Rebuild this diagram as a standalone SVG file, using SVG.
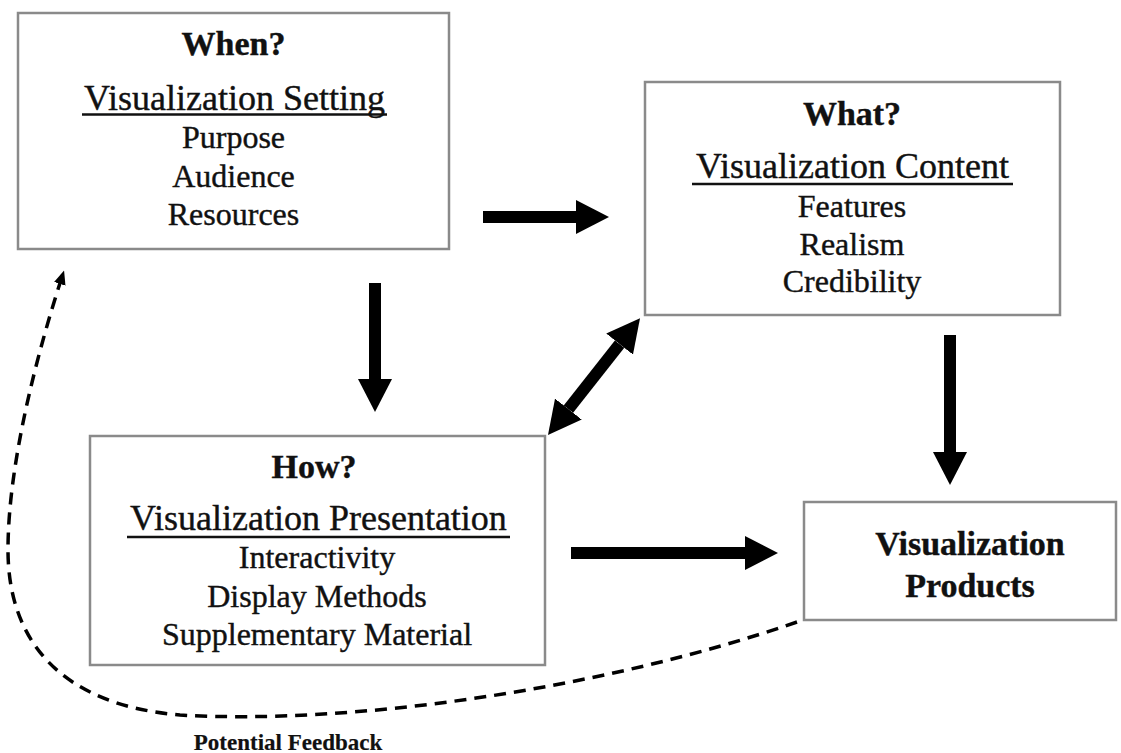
<svg xmlns="http://www.w3.org/2000/svg" width="1121" height="753" viewBox="0 0 1121 753">
<style>
.box{fill:#fff;stroke:#8a8a8a;stroke-width:2.5}
text{font-family:"Liberation Serif","Times New Roman",serif;fill:#111;text-anchor:middle;stroke:#111;stroke-width:0.4}
.title{font-size:34px;font-weight:bold}
.head{font-size:36px}
.item{font-size:32px}
.ul{stroke:#111;stroke-width:2.5}
.arrow{stroke:#000;stroke-width:12;fill:none;marker-end:url(#head)}
.fb{stroke:#000;stroke-width:3.5;fill:none;stroke-dasharray:12 8;marker-end:url(#small)}
</style>
<defs>
<marker id="head" markerUnits="userSpaceOnUse" viewBox="0 0 33 34" refX="0" refY="17" markerWidth="33" markerHeight="34" orient="auto-start-reverse">
<path d="M0,0 L33,17 L0,34 z" fill="#000"/>
</marker>
<marker id="small" markerUnits="userSpaceOnUse" viewBox="0 0 14 12" refX="4" refY="6" markerWidth="14" markerHeight="12" orient="auto">
<path d="M0,0 L14,6 L0,12 z" fill="#000"/>
</marker>
</defs>
<rect width="1121" height="753" fill="#fff"/>
<g id="connectors">
<line class="arrow" x1="483" y1="217" x2="576" y2="217"/>
<line class="arrow" x1="375" y1="283" x2="375" y2="379"/>
<line class="arrow" x1="568.4" y1="409.1" x2="619.6" y2="344.1" style="marker-start:url(#head)"/>
<line class="arrow" x1="950" y1="335" x2="950" y2="452"/>
<line class="arrow" x1="571" y1="553" x2="745" y2="553"/>
<path class="fb" d="M797,622 C600,690 350,725 180,715 C60,705 8,640 8,550 C8,460 40,345 61,280"/>
<text x="288" y="750" style="font-size:23px;font-weight:bold;stroke-width:0.2">Potential Feedback</text>
</g>
<g id="when">
<rect class="box" x="18" y="13" width="431" height="236"/>
<text class="title" x="233.5" y="55">When?</text>
<text class="head" x="234.5" y="110">Visualization Setting</text>
<line class="ul" x1="82" y1="114.5" x2="387" y2="114.5"/>
<text class="item" x="233.5" y="148">Purpose</text>
<text class="item" x="233.5" y="187">Audience</text>
<text class="item" x="233.5" y="225">Resources</text>
</g>
<g id="what">
<rect class="box" x="645" y="82" width="415" height="233"/>
<text class="title" x="852" y="125">What?</text>
<text class="head" x="852.5" y="178">Visualization Content</text>
<line class="ul" x1="692" y1="184" x2="1013" y2="184"/>
<text class="item" x="852" y="217">Features</text>
<text class="item" x="852" y="255">Realism</text>
<text class="item" x="852" y="292">Credibility</text>
</g>
<g id="how">
<rect class="box" x="90" y="436" width="455" height="229"/>
<text class="title" x="314" y="478">How?</text>
<text class="head" x="318.5" y="530">Visualization Presentation</text>
<line class="ul" x1="127" y1="537" x2="510" y2="537"/>
<text class="item" x="317" y="568">Interactivity</text>
<text class="item" x="317" y="607">Display Methods</text>
<text class="item" x="317" y="645">Supplementary Material</text>
</g>
<g id="products">
<rect class="box" x="804" y="502" width="312" height="118"/>
<text class="title" x="970" y="555">Visualization</text>
<text class="title" x="970" y="597">Products</text>
</g>
</svg>
